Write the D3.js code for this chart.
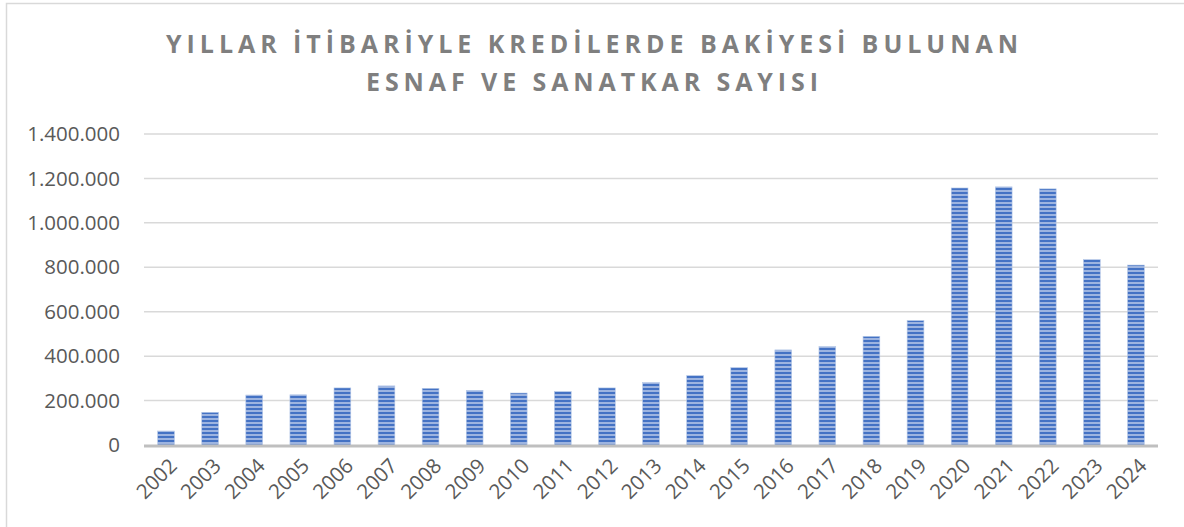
<!DOCTYPE html>
<html>
<head>
<meta charset="utf-8">
<script src="https://cdn.jsdelivr.net/npm/d3@7"></script>
<style>
  body { margin: 0; background: #fff; }
  svg { display: block; font-family: "Open Sans", "Liberation Sans", sans-serif; }
</style>
</head>
<body>
<div id="chart"></div>
<script>
// chart data
const years = ["2002", "2003", "2004", "2005", "2006", "2007", "2008", "2009", "2010", "2011", "2012",
  "2013", "2014", "2015", "2016", "2017", "2018", "2019", "2020", "2021", "2022", "2023", "2024"];
const counts = [63000, 147000, 225000, 226000, 257000, 266000, 255000, 246000, 234000, 241000, 257000,
  281000, 313000, 349000, 428000, 443000, 489000, 560000, 1157000, 1162000, 1153000, 835000, 810000];
const yTicks = [0, 200000, 400000, 600000, 800000, 1000000, 1200000, 1400000];
const titleLines = ["YILLAR İTİBARİYLE KREDİLERDE BAKİYESİ BULUNAN", "ESNAF VE SANATKAR SAYISI"];

const width = 1184, height = 527;
const margin = { top: 134, right: 26, bottom: 82, left: 144 };

const svg = d3.select("#chart").append("svg")
  .attr("width", width)
  .attr("height", height);

// striped fill like the excel pattern
const pat = svg.append("defs").append("pattern")
  .attr("id", "stripes")
  .attr("patternUnits", "userSpaceOnUse")
  .attr("width", 8).attr("height", 4);
pat.append("rect").attr("width", 8).attr("height", 4).attr("fill", "#9db4e0");
pat.append("rect").attr("width", 8).attr("height", 2).attr("fill", "#4472c4");

// frame (only top and left visible in the crop)
svg.append("path")
  .attr("d", "M6.5," + height + "V3.5H" + width)
  .attr("fill", "none")
  .attr("stroke", "#d9d9d9")
  .attr("stroke-width", 1.5);

// title
svg.append("g").selectAll("text")
  .data(titleLines)
  .join("text")
  .attr("x", width / 2)
  .attr("y", (d, i) => 53 + i * 38)
  .attr("text-anchor", "middle")
  .attr("font-size", 25)
  .attr("font-weight", "bold")
  .attr("fill", "#7f7f7f")
  .attr("textLength", (d, i) => i === 0 ? 852 : 452)
  .attr("lengthAdjust", "spacing")
  .text(d => d);

const x = d3.scaleBand()
  .domain(years)
  .range([margin.left, width - margin.right])
  .paddingInner(0.62)
  .paddingOuter(0.31);

const y = d3.scaleLinear()
  .domain([0, 1400000])
  .range([height - margin.bottom, margin.top]);

const fmt = v => d3.format(",")(v).replace(/,/g, ".");

// gridlines
svg.append("g")
  .selectAll("line")
  .data(yTicks.filter(t => t > 0))
  .join("line")
  .attr("x1", margin.left)
  .attr("x2", width - margin.right)
  .attr("y1", d => y(d))
  .attr("y2", d => y(d))
  .attr("stroke", "#d9d9d9")
  .attr("stroke-width", 1.5);

// y labels
svg.append("g")
  .selectAll("text")
  .data(yTicks)
  .join("text")
  .attr("x", 120)
  .attr("y", d => y(d))
  .attr("dy", "0.35em")
  .attr("text-anchor", "end")
  .attr("font-size", 20.5)
  .attr("fill", "#595959")
  .text(fmt);

// bars
svg.append("g")
  .selectAll("rect")
  .data(counts)
  .join("rect")
  .attr("x", (d, i) => x(years[i]))
  .attr("y", d => y(d))
  .attr("width", x.bandwidth())
  .attr("height", d => y(0) - y(d))
  .attr("fill", "url(#stripes)")
  .attr("stroke", "#b4c7e7")
  .attr("stroke-width", 0.6);

// base axis line
svg.append("line")
  .attr("x1", margin.left)
  .attr("x2", width - margin.right)
  .attr("y1", y(0) + 1)
  .attr("y2", y(0) + 1)
  .attr("stroke", "#bfbfbf")
  .attr("stroke-width", 3);

// x labels rotated
svg.append("g")
  .selectAll("text")
  .data(years)
  .join("text")
  .attr("text-anchor", "end")
  .attr("font-size", 20.5)
  .attr("fill", "#595959")
  .attr("transform", d => "translate(" + (x(d) + x.bandwidth() / 2 + 2) + "," + (y(0) + 12) + ") rotate(-45)")
  .attr("dy", "0.7em")
  .text(d => d);
</script>
</body>
</html>
